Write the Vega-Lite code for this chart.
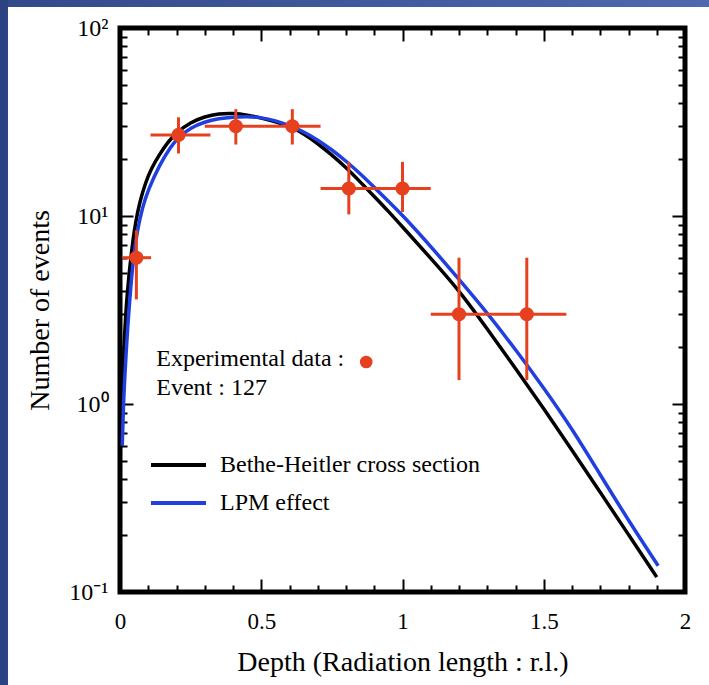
{
  "$schema": "https://vega.github.io/schema/vega-lite/v6.json",
  "width": 565,
  "height": 564,
  "autosize": "none",
  "padding": {"left": 120, "top": 28, "right": 24, "bottom": 93},
  "background": "white",
  "config": {
    "view": {"stroke": "black", "strokeWidth": 5},
    "font": "Liberation Serif",
    "axis": {
      "grid": false,
      "domain": false,
      "tickColor": "black",
      "tickWidth": 2,
      "labelFont": "Liberation Serif",
      "labelFontSize": 23,
      "labelColor": "black",
      "titleFont": "Liberation Serif",
      "titleFontSize": 28,
      "titleFontWeight": "normal",
      "titleColor": "black",
      "labelFlush": false,
      "labelOverlap": false
    }
  },
  "datasets": {
    "curves": [
      {"series": "Bethe-Heitler cross section", "x": 0.005, "y": 0.6},
      {"series": "Bethe-Heitler cross section", "x": 0.01, "y": 1.4},
      {"series": "Bethe-Heitler cross section", "x": 0.015, "y": 2.2},
      {"series": "Bethe-Heitler cross section", "x": 0.025, "y": 3.9},
      {"series": "Bethe-Heitler cross section", "x": 0.04, "y": 6.4},
      {"series": "Bethe-Heitler cross section", "x": 0.055, "y": 9.3},
      {"series": "Bethe-Heitler cross section", "x": 0.07, "y": 11.9},
      {"series": "Bethe-Heitler cross section", "x": 0.09, "y": 15.0},
      {"series": "Bethe-Heitler cross section", "x": 0.11, "y": 17.8},
      {"series": "Bethe-Heitler cross section", "x": 0.14, "y": 21.3},
      {"series": "Bethe-Heitler cross section", "x": 0.17, "y": 24.8},
      {"series": "Bethe-Heitler cross section", "x": 0.2, "y": 27.8},
      {"series": "Bethe-Heitler cross section", "x": 0.25, "y": 31.5},
      {"series": "Bethe-Heitler cross section", "x": 0.3, "y": 33.8},
      {"series": "Bethe-Heitler cross section", "x": 0.35, "y": 35},
      {"series": "Bethe-Heitler cross section", "x": 0.4, "y": 35.2},
      {"series": "Bethe-Heitler cross section", "x": 0.45, "y": 34.5},
      {"series": "Bethe-Heitler cross section", "x": 0.5, "y": 33.2},
      {"series": "Bethe-Heitler cross section", "x": 0.55, "y": 31.8},
      {"series": "Bethe-Heitler cross section", "x": 0.6, "y": 30.0},
      {"series": "Bethe-Heitler cross section", "x": 0.65, "y": 27.5},
      {"series": "Bethe-Heitler cross section", "x": 0.7, "y": 24.3},
      {"series": "Bethe-Heitler cross section", "x": 0.75, "y": 21.1},
      {"series": "Bethe-Heitler cross section", "x": 0.8, "y": 18.1},
      {"series": "Bethe-Heitler cross section", "x": 0.85, "y": 15.2},
      {"series": "Bethe-Heitler cross section", "x": 0.9, "y": 12.7},
      {"series": "Bethe-Heitler cross section", "x": 0.95, "y": 10.6},
      {"series": "Bethe-Heitler cross section", "x": 1.0, "y": 8.75},
      {"series": "Bethe-Heitler cross section", "x": 1.1, "y": 5.96},
      {"series": "Bethe-Heitler cross section", "x": 1.2, "y": 4.03},
      {"series": "Bethe-Heitler cross section", "x": 1.3, "y": 2.51},
      {"series": "Bethe-Heitler cross section", "x": 1.4, "y": 1.55},
      {"series": "Bethe-Heitler cross section", "x": 1.5, "y": 0.944},
      {"series": "Bethe-Heitler cross section", "x": 1.6, "y": 0.569},
      {"series": "Bethe-Heitler cross section", "x": 1.7, "y": 0.339},
      {"series": "Bethe-Heitler cross section", "x": 1.8, "y": 0.202},
      {"series": "Bethe-Heitler cross section", "x": 1.9, "y": 0.12},
      {"series": "LPM effect", "x": 0.008, "y": 0.6},
      {"series": "LPM effect", "x": 0.012, "y": 1.0},
      {"series": "LPM effect", "x": 0.02, "y": 1.7},
      {"series": "LPM effect", "x": 0.03, "y": 3.0},
      {"series": "LPM effect", "x": 0.047, "y": 6.0},
      {"series": "LPM effect", "x": 0.06, "y": 8.2},
      {"series": "LPM effect", "x": 0.08, "y": 11.2},
      {"series": "LPM effect", "x": 0.1, "y": 13.8},
      {"series": "LPM effect", "x": 0.14, "y": 18.7},
      {"series": "LPM effect", "x": 0.18, "y": 23.5},
      {"series": "LPM effect", "x": 0.21, "y": 26.5},
      {"series": "LPM effect", "x": 0.25, "y": 29.5},
      {"series": "LPM effect", "x": 0.3, "y": 31.7},
      {"series": "LPM effect", "x": 0.35, "y": 33.0},
      {"series": "LPM effect", "x": 0.4, "y": 33.6},
      {"series": "LPM effect", "x": 0.45, "y": 33.8},
      {"series": "LPM effect", "x": 0.5, "y": 33.4},
      {"series": "LPM effect", "x": 0.55, "y": 32.2},
      {"series": "LPM effect", "x": 0.6, "y": 30.3},
      {"series": "LPM effect", "x": 0.65, "y": 28.1},
      {"series": "LPM effect", "x": 0.7, "y": 25.4},
      {"series": "LPM effect", "x": 0.75, "y": 22.5},
      {"series": "LPM effect", "x": 0.8, "y": 19.6},
      {"series": "LPM effect", "x": 0.85, "y": 16.8},
      {"series": "LPM effect", "x": 0.9, "y": 14.2},
      {"series": "LPM effect", "x": 0.95, "y": 12.0},
      {"series": "LPM effect", "x": 1.0, "y": 10.1},
      {"series": "LPM effect", "x": 1.1, "y": 6.9},
      {"series": "LPM effect", "x": 1.2, "y": 4.6},
      {"series": "LPM effect", "x": 1.3, "y": 3.05},
      {"series": "LPM effect", "x": 1.4, "y": 1.95},
      {"series": "LPM effect", "x": 1.5, "y": 1.22},
      {"series": "LPM effect", "x": 1.6, "y": 0.74},
      {"series": "LPM effect", "x": 1.7, "y": 0.42},
      {"series": "LPM effect", "x": 1.8, "y": 0.24},
      {"series": "LPM effect", "x": 1.905, "y": 0.138}
    ],
    "exp": [
      {"x": 0.058, "y": 6, "xlo": 0.008, "xhi": 0.11, "ylo": 3.6, "yhi": 8.4},
      {"x": 0.207, "y": 27, "xlo": 0.108, "xhi": 0.32, "ylo": 21.5, "yhi": 33.5},
      {"x": 0.41, "y": 30, "xlo": 0.3, "xhi": 0.51, "ylo": 24, "yhi": 37},
      {"x": 0.61, "y": 30, "xlo": 0.51, "xhi": 0.71, "ylo": 24, "yhi": 37},
      {"x": 0.81, "y": 14, "xlo": 0.71, "xhi": 0.905, "ylo": 10.2, "yhi": 19.4},
      {"x": 1.0, "y": 14, "xlo": 0.905, "xhi": 1.1, "ylo": 10.5, "yhi": 19.4},
      {"x": 1.2, "y": 3, "xlo": 1.1, "xhi": 1.32, "ylo": 1.34, "yhi": 6.0},
      {"x": 1.44, "y": 3, "xlo": 1.32, "xhi": 1.58, "ylo": 1.34, "yhi": 6.0}
    ]
  },
  "layer": [
    {
      "data": {"values": [{"part": "top strip"}]},
      "mark": {"type": "rect", "clip": false, "color": {"gradient": "linear", "stops": [{"offset": 0, "color": "#2b4380"}, {"offset": 1, "color": "#5a73bd"}]}},
      "encoding": {
        "x": {"datum": -1, "type": "quantitative", "scale": {"domain": [0, 2], "nice": false, "zero": false}, "axis": null},
        "x2": {"datum": 3},
        "y": {"datum": 10000, "type": "quantitative", "scale": {"type": "log", "domain": [0.1, 100], "nice": false}, "axis": null},
        "y2": {"datum": 129.3}
      }
    },
    {
      "data": {"values": [{"part": "left strip"}]},
      "mark": {"type": "rect", "clip": false, "color": "#2b4380"},
      "encoding": {
        "x": {"datum": -1, "type": "quantitative", "scale": {"domain": [0, 2], "nice": false, "zero": false}, "axis": null},
        "x2": {"datum": -0.3965},
        "y": {"datum": 10000, "type": "quantitative", "scale": {"type": "log", "domain": [0.1, 100], "nice": false}, "axis": null},
        "y2": {"datum": 0.0001}
      }
    },
    {
      "data": {"name": "curves"},
      "mark": {"type": "line", "strokeWidth": 3.5, "interpolate": "basis", "clip": true},
      "encoding": {
        "x": {
          "field": "x", "type": "quantitative",
          "scale": {"domain": [0, 2], "nice": false, "zero": false},
          "axis": {
            "orient": "bottom",
            "values": [0, 0.1, 0.2, 0.3, 0.4, 0.5, 0.6, 0.7, 0.8, 0.9, 1, 1.1, 1.2, 1.3, 1.4, 1.5, 1.6, 1.7, 1.8, 1.9, 2],
            "tickSize": {"condition": {"test": "abs(datum.value*2-round(datum.value*2))<0.001", "value": -13}, "value": -7},
            "labelExpr": "abs(datum.value*2-round(datum.value*2))<0.001 ? format(datum.value,'~g') : ''",
            "labelPadding": 31,
            "title": "Depth (Radiation length : r.l.)",
            "titlePadding": 9
          }
        },
        "y": {
          "field": "y", "type": "quantitative",
          "scale": {"type": "log", "domain": [0.1, 100], "nice": false},
          "axis": {
            "orient": "left",
            "values": [0.1, 0.2, 0.3, 0.4, 0.5, 0.6, 0.7, 0.8, 0.9, 1, 2, 3, 4, 5, 6, 7, 8, 9, 10, 20, 30, 40, 50, 60, 70, 80, 90, 100],
            "tickSize": {"condition": {"test": "indexof([0.1,1,10,100], datum.value) >= 0", "value": -13}, "value": -7},
            "labelExpr": "datum.value == 100 ? '10²' : datum.value == 10 ? '10¹' : datum.value == 1 ? '10⁰' : datum.value == 0.1 ? '10⁻¹' : ''",
            "labelPadding": 25,
            "labelFontSize": 24,
            "title": "Number of events",
            "titlePadding": 14
          }
        },
        "color": {
          "field": "series", "type": "nominal",
          "scale": {"domain": ["Bethe-Heitler cross section", "LPM effect"], "range": ["#000000", "#1f3fe0"]},
          "legend": {
            "orient": "none", "legendX": 29, "legendY": 425, "title": null,
            "symbolType": "stroke", "symbolSize": 3025, "symbolStrokeWidth": 4,
            "labelFont": "Liberation Serif", "labelFontSize": 24, "labelColor": "black",
            "labelOffset": 12, "labelLimit": 0, "clipHeight": 24, "rowPadding": 14, "padding": 0
          }
        }
      }
    },
    {
      "data": {"name": "exp"},
      "mark": {"type": "rule", "color": "#e6401e", "strokeWidth": 3},
      "encoding": {
        "x": {
          "field": "xlo", "type": "quantitative",
          "scale": {"domain": [0, 2], "nice": false, "zero": false},
          "axis": {
            "orient": "top",
            "values": [0, 0.1, 0.2, 0.3, 0.4, 0.5, 0.6, 0.7, 0.8, 0.9, 1, 1.1, 1.2, 1.3, 1.4, 1.5, 1.6, 1.7, 1.8, 1.9, 2],
            "tickSize": {"condition": {"test": "abs(datum.value*2-round(datum.value*2))<0.001", "value": -13}, "value": -7},
            "labels": false, "title": null
          }
        },
        "x2": {"field": "xhi"},
        "y": {
          "field": "y", "type": "quantitative",
          "scale": {"type": "log", "domain": [0.1, 100], "nice": false},
          "axis": {
            "orient": "right",
            "values": [0.1, 0.2, 0.3, 0.4, 0.5, 0.6, 0.7, 0.8, 0.9, 1, 2, 3, 4, 5, 6, 7, 8, 9, 10, 20, 30, 40, 50, 60, 70, 80, 90, 100],
            "tickSize": {"condition": {"test": "indexof([0.1,1,10,100], datum.value) >= 0", "value": -13}, "value": -7},
            "labels": false, "title": null
          }
        }
      }
    },
    {
      "data": {"name": "exp"},
      "mark": {"type": "rule", "color": "#e6401e", "strokeWidth": 3},
      "encoding": {
        "x": {"field": "x", "type": "quantitative", "scale": {"domain": [0, 2], "nice": false, "zero": false}, "axis": null},
        "y": {"field": "ylo", "type": "quantitative", "scale": {"type": "log", "domain": [0.1, 100], "nice": false}, "axis": null},
        "y2": {"field": "yhi"}
      }
    },
    {
      "data": {"name": "exp"},
      "mark": {"type": "circle", "color": "#e6401e", "size": 200, "opacity": 1},
      "encoding": {
        "x": {"field": "x", "type": "quantitative", "scale": {"domain": [0, 2], "nice": false, "zero": false}, "axis": null},
        "y": {"field": "y", "type": "quantitative", "scale": {"type": "log", "domain": [0.1, 100], "nice": false}, "axis": null}
      }
    },
    {
      "data": {"values": [{"label": "Experimental data :"}]},
      "mark": {"type": "text", "align": "left", "baseline": "alphabetic", "font": "Liberation Serif", "fontSize": 24, "color": "black"},
      "encoding": {
        "text": {"field": "label"},
        "x": {"datum": 0.1285, "type": "quantitative", "scale": {"domain": [0, 2], "nice": false, "zero": false}, "axis": null},
        "y": {"datum": 1.594, "type": "quantitative", "scale": {"type": "log", "domain": [0.1, 100], "nice": false}, "axis": null}
      }
    },
    {
      "data": {"values": [{"label": "Event : 127"}]},
      "mark": {"type": "text", "align": "left", "baseline": "alphabetic", "font": "Liberation Serif", "fontSize": 24, "color": "black"},
      "encoding": {
        "text": {"field": "label"},
        "x": {"datum": 0.1285, "type": "quantitative", "scale": {"domain": [0, 2], "nice": false, "zero": false}, "axis": null},
        "y": {"datum": 1.113, "type": "quantitative", "scale": {"type": "log", "domain": [0.1, 100], "nice": false}, "axis": null}
      }
    },
    {
      "data": {"values": [{"symbol": "experimental data marker"}]},
      "mark": {"type": "circle", "color": "#e6401e", "size": 160, "opacity": 1},
      "encoding": {
        "x": {"datum": 0.8715, "type": "quantitative", "scale": {"domain": [0, 2], "nice": false, "zero": false}, "axis": null},
        "y": {"datum": 1.673, "type": "quantitative", "scale": {"type": "log", "domain": [0.1, 100], "nice": false}, "axis": null}
      }
    }
  ],
  "resolve": {"axis": {"x": "independent", "y": "independent"}}
}
